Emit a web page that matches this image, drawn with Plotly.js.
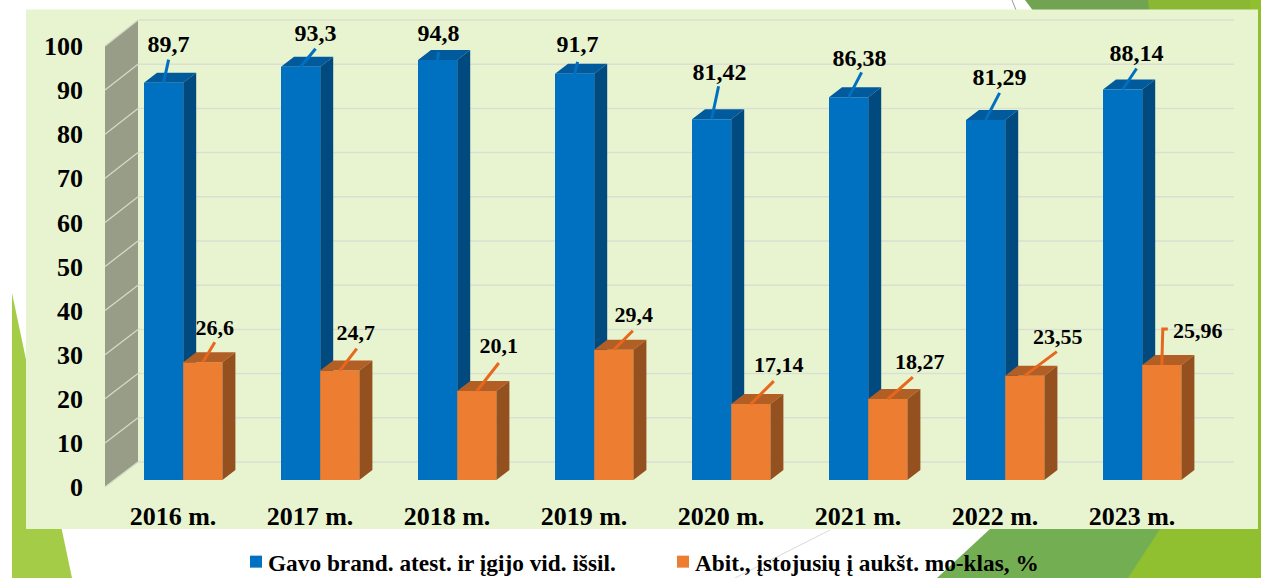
<!DOCTYPE html>
<html><head><meta charset="utf-8">
<script src="https://cdn.plot.ly/plotly-3.0.1.min.js"></script>
<style>html,body{margin:0;padding:0;background:#fff}#c{width:1261px;height:578px}</style></head>
<body><div id="c"></div>
<script>
// ---- chart data ----
const categories = ['2016 m.','2017 m.','2018 m.','2019 m.','2020 m.','2021 m.','2022 m.','2023 m.'];
const blueValues = [89.7,93.3,94.8,91.7,81.42,86.38,81.29,88.14];
const orangeValues = [26.6,24.7,20.1,29.4,17.14,18.27,23.55,25.96];
const blueName = 'Gavo brand. atest. ir įgijo vid. išsil.';
const orangeName = 'Abit., įstojusių į aukšt. mo-klas, %';
const yTicks = [0,10,20,30,40,50,60,70,80,90,100];

// ---- leader-line / label offsets, in pixels from the top of each bar (style only) ----
const blueLeaderEnd = [[5,23],[15,18],[1,8],[3,12],[7,33],[13,25],[14,27],[14,21]];
const blueLabelAt   = [[5,36.5],[15,31.5],[1,25.5],[3,27.5],[8,45.5],[11,37.5],[14,40.5],[14,34.5]];
const orangeLeaderEnd = [[12,20],[17,22],[22,28],[19,19],[23,23],[25,22],[32,24],[6,36]];
const orangeLabelAt   = [[12,33],[16,36],[22,43],[20,33],[28,38],[32,36],[33,37],[36,33]];

// ---- page geometry (px) ----
const W=1261,H=578,L=90,R=1250,T=10,B=498;
const X0=173,DX=137;                 // tick position of first category, category pitch
const FRONT0=487,FRONTK=4.41;        // tick-label scale on the front edge of the wall
const BAR0=480,BARK=4.43;            // bar scale
const BACK0=462,BACKK=4.42;          // back-wall gridline scale
const BARW=39.2,DEPX=13,DEPY=10;
const ux=p=>(p-X0)/DX;
const fy=p=>(FRONT0-p)/FRONTK;
const by=p=>(BAR0-p)/BARK;
const px=p=>p/W, py=p=>1-p/H;
const FONT='"Liberation Serif", serif';
const idx=categories.map((_,i)=>i);
const BLUEOFF=ux(144), ORANGEOFF=ux(183.2), WBAR=BARW/DX;

function poly(list){const x=[],y=[];list.forEach(q=>{q.forEach(([a,b])=>{x.push(a);y.push(b)});x.push(q[0][0]);y.push(q[0][1]);x.push(null);y.push(null)});return{x,y}}
function faces(vals,off,topCol,sideCol,z){
  const d=DEPX/DX,h=DEPY/BARK,w=WBAR;
  const top=poly(vals.map((v,i)=>[[i+off,v],[i+off+w,v],[i+off+w+d,v+h],[i+off+d,v+h]]));
  const side=poly(vals.map((v,i)=>[[i+off+w,v],[i+off+w+d,v+h],[i+off+w+d,h],[i+off+w,0]]));
  return [top,side].map((g,k)=>({type:'scatter',mode:'lines',x:g.x,y:g.y,yaxis:'y2',fill:'toself',fillcolor:k?sideCol:topCol,line:{width:0,color:k?sideCol:topCol},showlegend:false,hoverinfo:'skip',zorder:z}));
}
function leaders(vals,off,ends,color,z,elbow){
  const x=[],y=[],cx=off+WBAR/2;
  vals.forEach((v,i)=>{
    x.push(i+cx);y.push(v);
    if(elbow&&elbow[i]){x.push(i+cx+elbow[i][0]/DX);y.push(v+elbow[i][1]/BARK)}
    x.push(i+cx+ends[i][0]/DX);y.push(v+ends[i][1]/BARK);
    x.push(null);y.push(null);
  });
  return {type:'scatter',mode:'lines',x,y,yaxis:'y2',line:{color,width:3},showlegend:false,hoverinfo:'skip',zorder:z};
}
function labels(vals,off,at,size,z){
  const cx=off+WBAR/2;
  return {type:'scatter',mode:'text',x:vals.map((v,i)=>i+cx+at[i][0]/DX),y:vals.map((v,i)=>v+at[i][1]/BARK),yaxis:'y2',
    text:vals.map(v=>String(v).replace('.',',')),textposition:'middle center',
    textfont:{family:FONT,size,color:'#000',weight:700},showlegend:false,hoverinfo:'skip',zorder:z,cliponaxis:false};
}

// wall + gridlines, on the front scale
const wall={type:'scatter',mode:'lines',x:[105,138,138,105,105].map(ux),y:[487,462,20,46,487].map(fy),fill:'toself',fillcolor:'#979d86',line:{width:0,color:'#979d86'},showlegend:false,hoverinfo:'skip'};
const gx=[],gy=[],sx=[],sy=[];
yTicks.forEach(v=>{const b=BACK0-BACKK*v;gx.push(ux(138),ux(1234),null);gy.push(fy(b),fy(b),null);sx.push(ux(105),ux(138),null);sy.push(v,fy(b),null)});
const grid={type:'scatter',mode:'lines',x:gx,y:gy,line:{color:'#dadfd2',width:1.5},showlegend:false,hoverinfo:'skip'};
const slant={type:'scatter',mode:'lines',x:sx,y:sy,line:{color:'#d6dac8',width:1.3},showlegend:false,hoverinfo:'skip'};

const BLUE='#0070c0',ORANGE='#ed7d31';
const data=[
  wall,grid,slant,
  ...faces(blueValues,BLUEOFF,'#005a9c','#004a80',1),
  {type:'bar',name:blueName,x:idx,y:blueValues,yaxis:'y2',width:WBAR,offset:BLUEOFF,marker:{color:BLUE,line:{width:0}},hoverinfo:'skip',zorder:2},
  {type:'bar',name:orangeName,x:idx,y:orangeValues,yaxis:'y2',width:WBAR,offset:ORANGEOFF,marker:{color:ORANGE,line:{width:0}},hoverinfo:'skip',zorder:3},
  ...faces(orangeValues,ORANGEOFF,'#b25f25','#95501f',3),
  leaders(blueValues,BLUEOFF,blueLeaderEnd,BLUE,4),
  leaders(orangeValues,ORANGEOFF,orangeLeaderEnd,'#e8671c',4,{7:[1,36]}),
  labels(blueValues,BLUEOFF,blueLabelAt,24,5),
  labels(orangeValues,ORANGEOFF,orangeLabelAt,22,5)
];

const poly2=(pts,fill)=>({type:'path',xref:'paper',yref:'paper',layer:'below',fillcolor:fill,line:{width:0},
  path:pts.map((p,i)=>(i?'L':'M')+px(p[0])+','+py(p[1])).join(' ')+' Z'});
const shapes=[
  poly2([[12,293],[72,578],[12,578]],'#a5cc47'),
  poly2([[1025,0],[1261,0],[1261,20],[1040,20]],'#72a353'),
  poly2([[1148,0],[1261,0],[1261,20],[1150,20]],'#8ab833'),
  poly2([[1040,520],[1261,520],[1261,578],[937,578],[990,529]],'#74ae53'),
  poly2([[1166,520],[1261,520],[1261,578],[1128,578]],'#90c030'),
  poly2([[1250,0],[1261,0],[1261,530],[1250,530]],'#90c030'),
  {type:'path',xref:'paper',yref:'paper',layer:'below',line:{color:'#9a9a9a',width:1},path:`M${px(1012)},${py(0)} L${px(1016)},${py(10)}`},
  {type:'path',xref:'paper',yref:'paper',layer:'below',line:{color:'#d9d9d9',width:1},path:`M${px(735)},${py(578)} L${px(830)},${py(530)}`},
  {type:'rect',xref:'paper',yref:'paper',layer:'below',x0:px(26),x1:px(1258),y0:py(529),y1:py(9.5),fillcolor:'#e8f4d0',line:{width:0}}
];

const tickFont={family:FONT,size:26,color:'#000',weight:700};
const layout={
  width:W,height:H,margin:{l:0,r:0,t:0,b:0,pad:0,autoexpand:false},paper_bgcolor:'#fff',plot_bgcolor:'rgba(0,0,0,0)',
  barmode:'overlay',hovermode:false,dragmode:false,shapes,
  xaxis:{domain:[px(L),px(R)],range:[ux(L),ux(R)],tickmode:'array',tickvals:idx,ticktext:categories,showgrid:false,zeroline:false,showline:false,ticks:'',tickfont:tickFont,ticklabelstandoff:0,fixedrange:true,automargin:false},
  yaxis:{domain:[py(B),py(T)],range:[fy(B),fy(T)],tickmode:'array',tickvals:yTicks,ticktext:yTicks.map(String),showgrid:false,zeroline:false,showline:false,ticks:'',tickfont:tickFont,ticklabelstandoff:6,fixedrange:true,automargin:false},
  yaxis2:{overlaying:'y',domain:[py(B),py(T)],range:[by(B),by(T)],visible:false,fixedrange:true},
  showlegend:true,
  legend:{orientation:'h',x:px(228),y:py(540),xanchor:'left',yanchor:'top',entrywidth:382,entrywidthmode:'pixels',font:{family:FONT,size:23.3,color:'#000',weight:700},bgcolor:'rgba(0,0,0,0)',traceorder:'normal'}
};
Plotly.newPlot('c',data,layout,{displayModeBar:false,staticPlot:true}).then(gd=>{
  // the reference keeps its legend swatches close to the text
  gd.querySelectorAll('.legend .legendpoints').forEach(p=>p.setAttribute('transform','translate(8,0)'));
});
</script></body></html>
